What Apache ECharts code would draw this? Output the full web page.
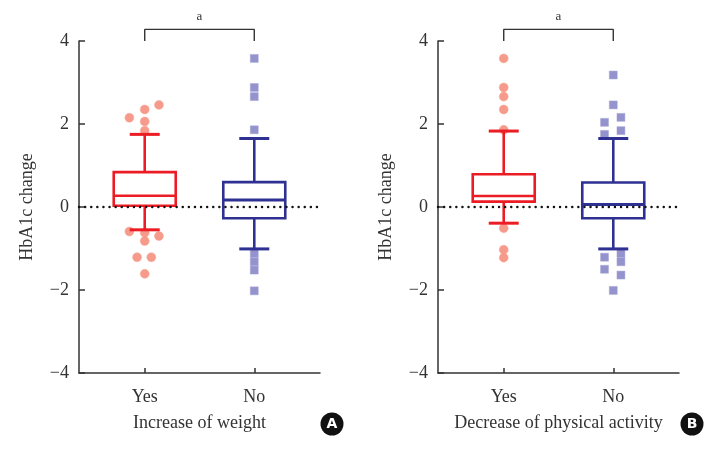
<!DOCTYPE html>
<html>
<head>
<meta charset="utf-8">
<script src="https://cdn.jsdelivr.net/npm/echarts@6/dist/echarts.min.js"></script>
<style>html,body{margin:0;padding:0;background:#fff;}#c{width:722px;height:451px;}</style>
</head>
<body>
<div id="c"></div>
<script>
const categories = ['Yes', 'No'];
const yTicks = [-4, -2, 0, 2, 4];
const panelTitles = ['Increase of weight', 'Decrease of physical activity'];
const panelBadges = ['A', 'B'];
// [category index, lower whisker, Q1, median, Q3, upper whisker]
const boxA = [[0, -0.55, 0.03, 0.27, 0.84, 1.75], [1, -1.01, -0.27, 0.17, 0.60, 1.65]];
const boxB = [[0, -0.39, 0.13, 0.265, 0.79, 1.83], [1, -1.01, -0.27, 0.06, 0.59, 1.65]];
// outliers [x position (category + jitter), value]
const outYesA = [[-0.14, 2.15], [0, 2.35], [0.13, 2.46], [0, 2.06], [0, 1.84], [-0.14, -0.59], [0, -0.62], [0.13, -0.70], [0, -0.82], [-0.07, -1.21], [0.06, -1.21], [0, -1.61]];
const outNoA = [[1, 3.58], [1, 2.88], [1, 2.66], [1, 1.86], [1, -1.12], [1, -1.32], [1, -1.52], [1, -2.02]];
const outYesB = [[0, 3.58], [0, 2.88], [0, 2.66], [0, 2.35], [0, 1.86], [0, -0.51], [0, -1.03], [0, -1.22]];
const outNoB = [[1, 3.18], [1, 2.46], [0.92, 2.04], [0.92, 1.75], [1.07, 2.16], [1.07, 1.84], [0.92, -1.21], [0.92, -1.50], [1.07, -1.12], [1.07, -1.32], [1.07, -1.64], [1, -2.01]];
const bracketY = [4.0, 4.28];
const sigLabel = 'a';

const boxColors = ['#EC1C24', '#2E3192'];
const FONT = '"Liberation Serif", "DejaVu Serif", serif';
const TXT = '#333';

const chart = echarts.init(document.getElementById('c'), null, {renderer: 'canvas'});

function renderBox(params, api) {
  const x = api.value(0);
  const lo = api.coord([x, api.value(1)]);
  const q1 = api.coord([x, api.value(2)]);
  const md = api.coord([x, api.value(3)]);
  const q3 = api.coord([x, api.value(4)]);
  const hi = api.coord([x, api.value(5)]);
  const cx = lo[0];
  const hw = 31, cw = 15;
  const col = boxColors[params.dataIndex];
  const st = {stroke: col, lineWidth: 2.6, fill: null};
  return {
    type: 'group',
    children: [
      {type: 'rect', shape: {x: cx - hw, y: q3[1], width: hw * 2, height: q1[1] - q3[1]}, style: st},
      {type: 'line', shape: {x1: cx - hw, y1: md[1], x2: cx + hw, y2: md[1]}, style: {stroke: col, lineWidth: params.dataIndex === 1 ? 3 : 2.4}},
      {type: 'line', shape: {x1: cx, y1: q3[1], x2: cx, y2: hi[1]}, style: st},
      {type: 'line', shape: {x1: cx, y1: q1[1], x2: cx, y2: lo[1]}, style: st},
      {type: 'line', shape: {x1: cx - cw, y1: hi[1], x2: cx + cw, y2: hi[1]}, style: {stroke: col, lineWidth: 3}},
      {type: 'line', shape: {x1: cx - cw, y1: lo[1], x2: cx + cw, y2: lo[1]}, style: {stroke: col, lineWidth: 3}}
    ]
  };
}

const grids = [
  {left: 79, top: 41, width: 241, height: 332},
  {left: 438, top: 41, width: 241, height: 332}
];

function xAxisFor(i) {
  return {
    type: 'value', gridIndex: i, min: -0.6, max: 1.6, position: 'bottom',
    name: panelTitles[i], nameLocation: 'middle', nameGap: 41,
    nameTextStyle: {fontFamily: FONT, fontSize: 18, color: TXT},
    axisLine: {show: true, onZero: false, lineStyle: {color: '#333', width: 1.5}},
    axisTick: {show: true, inside: true, length: 5, customValues: [0, 1], lineStyle: {color: '#333', width: 1.5}},
    axisLabel: {show: true, customValues: [0, 1], margin: 15, fontFamily: FONT, fontSize: 18, color: TXT,
      formatter: v => categories[Math.round(v)]},
    splitLine: {show: false}
  };
}
function yAxisFor(i) {
  return {
    type: 'value', gridIndex: i, min: yTicks[0], max: yTicks[yTicks.length - 1], interval: 2,
    name: 'HbA1c change', nameLocation: 'middle', nameGap: 43,
    nameTextStyle: {fontFamily: FONT, fontSize: 18, color: TXT},
    axisLine: {show: true, onZero: false, lineStyle: {color: '#333', width: 1.5}},
    axisTick: {show: true, inside: true, length: 6, lineStyle: {color: '#333', width: 1.5}},
    axisLabel: {margin: 10, fontFamily: FONT, fontSize: 18, color: TXT,
      formatter: v => String(v).replace('-', '\u2212')},
    splitLine: {show: false}
  };
}

const boxes = [boxA, boxB];
const yesOut = [outYesA, outYesB];
const noOut = [outNoA, outNoB];
const series = [];
for (let i = 0; i < 2; i++) {
  series.push({
    type: 'scatter', xAxisIndex: i, yAxisIndex: i, data: yesOut[i], symbol: 'circle', symbolSize: 9,
    itemStyle: {color: '#F4826E', borderColor: '#F8A898', borderWidth: 0.6}, z: 2, silent: true
  });
  series.push({
    type: 'scatter', xAxisIndex: i, yAxisIndex: i, data: noOut[i], symbol: 'rect', symbolSize: 8,
    itemStyle: {color: '#7A78C0', borderColor: '#A9A8D8', borderWidth: 0.6}, z: 2, silent: true
  });
  series.push({
    type: 'custom', xAxisIndex: i, yAxisIndex: i, data: boxes[i], renderItem: renderBox,
    encode: {x: 0, y: [1, 2, 3, 4, 5]}, z: 3, silent: true
  });
  series.push({
    type: 'line', xAxisIndex: i, yAxisIndex: i, data: [[-0.6, 0], [1.58, 0]], symbol: 'none',
    lineStyle: {color: '#111', width: 2.4, type: [0.1, 6], cap: 'round'}, z: 4, silent: true
  });
  series.push({
    type: 'line', xAxisIndex: i, yAxisIndex: i, clip: false, symbol: 'none', silent: true,
    data: [[0, bracketY[0]], [0, bracketY[1]], [1, bracketY[1]], [1, bracketY[0]]],
    lineStyle: {color: '#333', width: 1.4}, z: 4
  });
}

chart.setOption({
  animation: false,
  backgroundColor: '#fff',
  grid: grids,
  xAxis: [xAxisFor(0), xAxisFor(1)],
  yAxis: [yAxisFor(0), yAxisFor(1)],
  series: series
});

const graphic = [];
const badgeX = [332, 692];
for (let i = 0; i < 2; i++) {
  const p = chart.convertToPixel({xAxisIndex: i, yAxisIndex: i}, [0.5, bracketY[1]]);
  graphic.push({type: 'text', x: p[0], y: p[1] - 6, style: {text: sigLabel, fill: TXT,
    font: '13px "Liberation Serif", serif', align: 'center', verticalAlign: 'bottom'}});
  graphic.push({type: 'circle', shape: {cx: badgeX[i], cy: 424, r: 11.5}, style: {fill: '#111'}});
  graphic.push({type: 'text', x: badgeX[i], y: 424.5, style: {text: panelBadges[i], fill: '#fff',
    font: 'bold 14px "DejaVu Sans", sans-serif', align: 'center', verticalAlign: 'middle'}});
}
chart.setOption({graphic: graphic});
</script>
</body>
</html>
